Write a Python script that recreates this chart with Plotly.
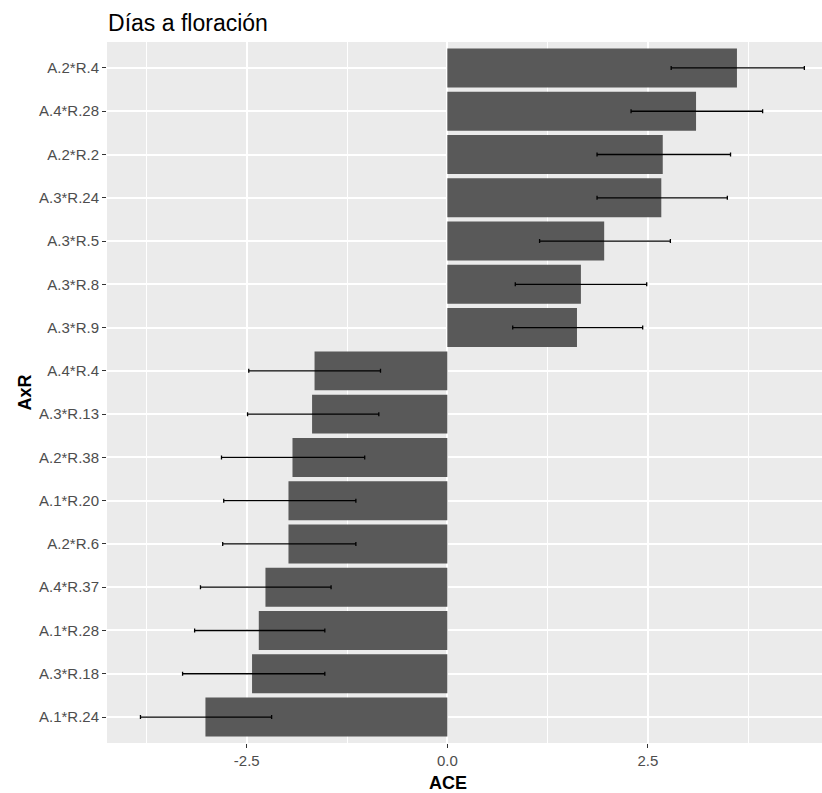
import plotly.graph_objects as go

# Categories from bottom to top
categories = ["A.1*R.24", "A.3*R.18", "A.1*R.28", "A.4*R.37", "A.2*R.6", "A.1*R.20",
              "A.2*R.38", "A.3*R.13", "A.4*R.4", "A.3*R.9", "A.3*R.8", "A.3*R.5",
              "A.3*R.24", "A.2*R.2", "A.4*R.28", "A.2*R.4"]
ace = [-3.015, -2.434, -2.35, -2.267, -1.98, -1.98,
       -1.93, -1.686, -1.655, 1.616, 1.665, 1.955,
       2.667, 2.685, 3.10, 3.61]
lower = [-3.825, -3.30, -3.15, -3.077, -2.80, -2.787,
         -2.815, -2.49, -2.475, 0.815, 0.847, 1.15,
         1.866, 1.866, 2.29, 2.79]
upper = [-2.19, -1.527, -1.527, -1.449, -1.14, -1.14,
         -1.03, -0.854, -0.833, 2.435, 2.485, 2.78,
         3.49, 3.53, 3.93, 4.45]
x_tick_vals = [-2.5, 0.0, 2.5]
x_tick_text = ["-2.5", "0.0", "2.5"]

W, H = 822, 793
L, R, T, B = 107, 0, 42, 50
FONT = "Liberation Sans, Arial, sans-serif"

fig = go.Figure()
fig.add_trace(go.Bar(
    y=categories, x=ace, orientation="h",
    marker=dict(color="#595959", line=dict(width=0)),
    width=0.9,
    error_x=dict(type="data", symmetric=False,
                 array=[u - v for u, v in zip(upper, ace)],
                 arrayminus=[v - l for v, l in zip(ace, lower)],
                 color="black", thickness=1.3, width=2),
    showlegend=False, hoverinfo="x+y",
))

pw = W - L - R
fig.update_layout(
    width=W, height=H,
    margin=dict(l=L, r=R, t=T, b=B, pad=0),
    paper_bgcolor="white", plot_bgcolor="#EBEBEB",
    font=dict(family=FONT, color="#4D4D4D", size=15),
    bargap=0.1,
    xaxis=dict(range=[-4.242, 4.67], tickvals=x_tick_vals, ticktext=x_tick_text,
               showgrid=True, gridcolor="white", gridwidth=1.6,
               minor=dict(tickvals=[-3.75, -1.25, 1.25, 3.75], showgrid=True,
                          gridcolor="white", gridwidth=0.8, ticks=""),
               zeroline=False, ticks="outside", ticklen=4, tickwidth=1.1,
               tickcolor="#333333", tickfont=dict(size=15, color="#4D4D4D"),
               showline=False, fixedrange=True),
    yaxis=dict(type="category", categoryorder="array", categoryarray=categories,
               range=[-0.6, 15.6], showgrid=True, gridcolor="white", gridwidth=1.6,
               ticks="outside", ticklen=4, tickwidth=1.1, tickcolor="#333333",
               tickfont=dict(size=15, color="#4D4D4D"), zeroline=False,
               showline=False, fixedrange=True),
    title=dict(text="Días a floración", x=0.0015, xref="paper", xanchor="left",
               y=1 - 23 / H, yref="container", yanchor="middle",
               font=dict(family=FONT, size=23, color="black")),
)

fig.add_annotation(text="<b>ACE</b>", xref="paper", yref="paper",
                   x=(447.5 - L) / pw, y=-(783 - (H - B)) / (H - T - B),
                   xanchor="center", yanchor="middle", showarrow=False,
                   font=dict(family=FONT, size=18, color="black"))
fig.add_annotation(text="<b>AxR</b>", xref="paper", yref="paper",
                   x=-(L - 24) / pw, y=0.5, textangle=-90,
                   xanchor="center", yanchor="middle", showarrow=False,
                   font=dict(family=FONT, size=18, color="black"))

fig.write_html("out.html", config={"displayModeBar": False},
               post_script="document.body.style.margin='0';document.body.style.overflow='hidden';")
